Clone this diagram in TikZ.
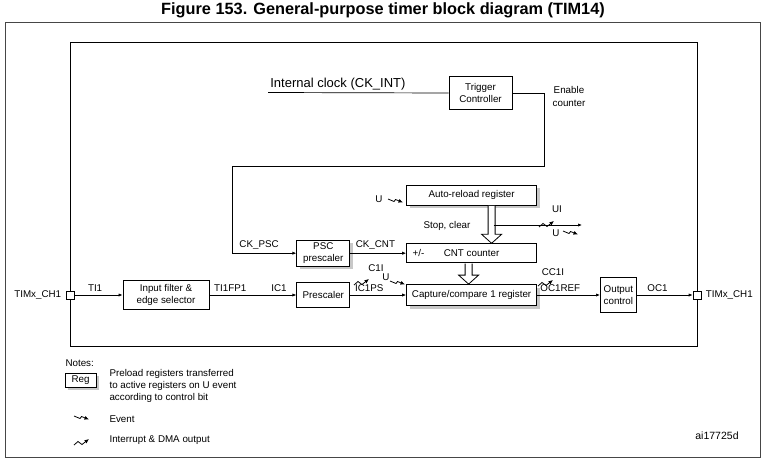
\documentclass[tikz,border=0pt]{standalone}
\usepackage{fontspec}
\setmainfont{Liberation Sans}
\usepackage{tikz}
\usetikzlibrary{
  arrows.meta,
  positioning,
  shadows
}
\definecolor{FrameGray}{RGB}{70,70,70}
\definecolor{ShadowGray}{RGB}{200,200,200}
\newcommand{\lblfont}{\fontsize{9.8}{12}\selectfont}
\tikzset{
  blockbox/.style={draw=black,fill=white,line width=0.8pt,align=center,font=\lblfont,inner sep=1pt},
  preload/.style={blockbox,drop shadow={shadow xshift=3pt,shadow yshift=-3pt,fill=ShadowGray,opacity=1}},
  pinbox/.style={draw=black,fill=white,line width=0.7pt,minimum size=8pt,inner sep=0pt},
  sig/.style={-{Latex[length=4pt,width=3.2pt]},line width=0.7pt},
  wire/.style={line width=0.7pt},
  frame/.style={line width=1pt},
  pics/fatarrow/.style={code={
    \draw[draw=black,line width=0.8pt,fill=white] (-3.5,0.5) -- (-3.5,#1-9) -- (-10,#1-9) -- (0,#1) -- (10,#1-9) -- (3.5,#1-9) -- (3.5,0.5);
  }},
  pics/evt/.style={code={
    \draw[draw=black,line width=0.8pt,-{Latex[length=4.5pt,width=4pt]}] (0,0) -- (6,2.5) -- (7.5,0.5) -- (15,3.5);
  }},
  pics/irq/.style={code={
    \draw[draw=black,line width=0.8pt,-{Latex[length=4.5pt,width=4pt]}] (0,5) -- (4,1.5) -- (8,4.5) -- (15,-1);
  }}
}

\begin{document}
\begin{tikzpicture}[x=1pt,y=-1pt,every node/.style={font=\lblfont}]
\useasboundingbox (0,0) rectangle (766,463);
\node[font=\fontsize{16.3}{18}\selectfont\bfseries] (title) at (383,10) {Figure 153. General-purpose timer block diagram (TIM14)};
\draw[frame,draw=FrameGray] (5,22) rectangle (760,457);
\draw[frame] (70,42) rectangle (697,346);

% input to output
\node[pinbox] (pinl) at (70,295) {};
\node[blockbox, minimum width=86pt, minimum height=29pt] (filt) at (166,295) {Input filter \&\\edge selector};
\node[blockbox, minimum width=53pt, minimum height=25pt, right=87pt of filt] (pre) {Prescaler};
\node[preload, minimum width=130pt, minimum height=21pt, right=56pt of pre] (cc) {Capture/compare 1 register};
\node[blockbox, minimum width=36pt, minimum height=35pt, right=63pt of cc] (outc) {Output\\control};
\node[pinbox] (pinr) at (697,295) {};
\node[left=1pt of pinl] (chl) {TIMx\_CH1};
\node[right=1pt of pinr] (chr) {TIMx\_CH1};

% counter part
\node[preload, minimum width=53pt, minimum height=26pt, above=15.5pt of pre] (psc) {PSC\\prescaler};
\node[blockbox, minimum width=130pt, minimum height=19pt, above=21pt of cc] (cnt) {CNT counter};
\node[anchor=west] (updn) at ([xshift=3pt]cnt.west) {+/-};
\node[preload, minimum width=130pt, minimum height=20pt, above=38pt of cnt] (arr) {Auto-reload register};
\node[blockbox, minimum width=63pt, minimum height=33pt] (trig) at (480.5,93) {Trigger\\Controller};

\coordinate (ckint) at (268,92.5);
\coordinate (en) at (544,166);
\coordinate (ck) at (232,166);
\coordinate (uis) at (493.5,225);
\coordinate (uie) at (582,225);

\draw[wire] (ckint) -- (trig.west) node[pos=0,above right,font=\fontsize{13}{15}\selectfont,inner sep=2pt] (intclk) {Internal clock (CK\_INT)};
\draw[sig] (trig.east) -| (en) -- (ck) |- node[above,pos=0.71] (ckpsc) {CK\_PSC} (psc.west);
\node[align=center,font=\fontsize{9.8}{13}\selectfont] (encnt) at (569,96) {Enable\\counter};

\draw[sig] (pinl.east) -- node[above,pos=0.43] (ti1) {TI1} (filt.west);
\draw[sig] (filt.east) -- node[above,pos=0.24] (tifp) {TI1FP1} node[above,pos=0.8] (ic1) {IC1} (pre.west);
\draw[sig] (pre.east) -- node[above,pos=0.34] (icps) {IC1PS} (cc.west);
\draw[sig] (psc.east) -- node[above,pos=0.45] (ckcnt) {CK\_CNT} (cnt.west);
\draw[sig] (cc.east) -- node[above,pos=0.37] (ocref) {OC1REF} (outc.west);
\draw[sig] (outc.east) -- node[above,pos=0.37] (oc1) {OC1} (pinr.west);

\pic at ([xshift=20pt]arr.south) {fatarrow=38};
\pic at ([xshift=-3pt]cnt.south) {fatarrow=21};
\draw[sig] (uis) -- (uie);
\node (stop) at (447,226) {Stop, clear};

% events and interrupts
\node (uarr) at (379,199) {U};
\pic at (388,199) {evt};
\node (ui) at (557,209) {UI};
\pic at (539,222) {irq};
\node (uupd) at (556,233) {U};
\pic at (563,231) {evt};
\node (c1i) at (376,268) {C1I};
\pic at (354,280) {irq};
\node (ucc) at (386,277) {U};
\pic at (390,281) {evt};
\node (cc1i) at (553,272) {CC1I};
\pic at (538,281) {irq};

% notes
\node[anchor=west] (notes) at (62,363) {Notes:};
\node[preload, minimum width=31pt, minimum height=14pt] (reg) at (80.5,380) {Reg};
\node[anchor=west, align=left] (pretxt) at (106,386) {Preload registers transferred\\to active registers on U event\\according to control bit};
\pic at (74,416) {evt};
\node[anchor=west] (evtxt) at (106,419) {Event};
\pic at (74,440) {irq};
\node[anchor=west] (irqtxt) at (106,440) {Interrupt \& DMA output};
\node[font=\fontsize{10.5}{12}\selectfont] (ref) at (717,436) {ai17725d};
\end{tikzpicture}
\end{document}
